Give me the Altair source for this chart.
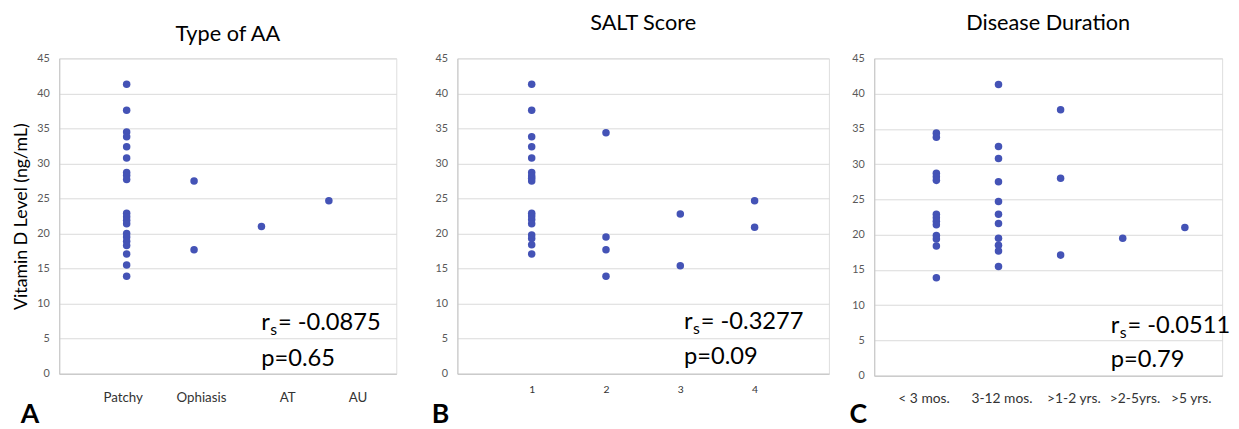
import altair as alt
import pandas as pd

FONT = "Lato"
POINT_COLOR = "#4453B6"
GRID = "#d9d9d9"
AXIS_LINE = "#c4c4c4"
TICK_LABEL = "#595959"

# ---------------- data ----------------
type_labels = ["Patchy", "Ophiasis", "AT", "AU"]
patchy_vals = [41.3, 37.6, 34.5, 33.8, 32.4, 30.8, 28.7, 28.3, 27.7, 22.9,
               22.4, 21.9, 21.4, 20.0, 19.5, 18.9, 18.3, 17.1, 15.5, 13.9]
ophiasis_vals = [27.5, 17.7]
at_vals = [21.0]
au_vals = [24.7]

salt_labels = ["1", "2", "3", "4"]
salt1_vals = [41.3, 37.6, 33.8, 32.4, 30.8, 28.7, 28.2, 27.9, 27.5, 22.9,
              22.5, 22.0, 21.4, 19.8, 19.3, 18.4, 17.1]
salt2_vals = [34.4, 19.5, 17.7, 13.9]
salt3_vals = [22.8, 15.4]
salt4_vals = [24.7, 20.9]

dur_labels = ["< 3 mos.", "3-12 mos.", ">1-2 yrs.", ">2-5yrs.", ">5 yrs."]
dur_lt3_vals = [34.4, 33.8, 28.7, 28.2, 27.7, 22.9, 22.4, 21.9, 21.4, 19.9,
                19.4, 18.4, 13.9]
dur_3_12_vals = [41.3, 32.5, 30.8, 27.5, 24.7, 22.9, 21.6, 19.5, 18.5, 17.7, 15.5]
dur_1_2_vals = [37.7, 28.0, 17.1]
dur_2_5_vals = [19.5]
dur_gt5_vals = [21.0]

titles = ["Type of AA", "SALT Score", "Disease Duration"]
rs_texts = ["= -0.0875", "= -0.3277", "= -0.0511"]
p_texts = ["p=0.65", "p=0.09", "p=0.79"]
letters = ["A", "B", "C"]
y_ticks = [0, 5, 10, 15, 20, 25, 30, 35, 40, 45]


def make_df(groups):
    rows = []
    for i, vals in enumerate(groups, start=1):
        for v in vals:
            rows.append({"pos": i, "vit": v})
    return pd.DataFrame(rows)


def one_text(txt, x, y, size, weight="normal", color="black"):
    return alt.Chart(pd.DataFrame({"t": [txt]})).mark_text(
        font=FONT, fontSize=size, fontWeight=weight, color=color,
        align="left", baseline="alphabetic"
    ).encode(x=alt.value(x), y=alt.value(y), text="t:N")


def panel(groups, labels, width, height, xmax, title, title_offset,
          label_offsets, label_size, label_pad, y_title, y_extent,
          rs, p, ann_x, ann_y, letter, letter_xy):
    df = make_df(groups)
    arr = "[''," + ",".join("'" + l + "'" for l in labels) + "]"
    off_cond = [{"test": f"datum.value == {i}", "value": o}
                for i, o in enumerate(label_offsets, start=1)]
    x_axis = alt.Axis(
        values=list(range(1, len(labels) + 1)),
        labelExpr=f"{arr}[datum.value]",
        title=None, grid=False, ticks=False, tickSize=0,
        domain=True, domainColor=AXIS_LINE,
        labelFont=FONT, labelFontSize=label_size, labelColor="#333333",
        labelPadding=label_pad,
        labelOffset={"condition": off_cond, "value": 0},
    )
    y_kwargs = dict(
        values=y_ticks, grid=True, gridColor=GRID, ticks=False, tickSize=0,
        domain=True, domainColor=AXIS_LINE, labelFont=FONT, labelFontSize=11,
        labelColor=TICK_LABEL, labelPadding=10,
        minExtent=y_extent, maxExtent=y_extent,
    )
    if y_title:
        y_axis = alt.Axis(title=y_title, titleFont=FONT, titleFontSize=18,
                          titleFontWeight="normal", titleColor="black",
                          titlePadding=5, **y_kwargs)
    else:
        y_axis = alt.Axis(title=None, **y_kwargs)

    pts = alt.Chart(df).mark_circle(size=58, color=POINT_COLOR, opacity=1).encode(
        x=alt.X("pos:Q", scale=alt.Scale(domain=[0, xmax], nice=False, zero=True),
                axis=x_axis),
        y=alt.Y("vit:Q", scale=alt.Scale(domain=[0, 45], nice=False), axis=y_axis),
    )
    layers = [
        pts,
        one_text("r", ann_x, ann_y[0], 24),
        one_text("s", ann_x + 9, ann_y[0] + 5, 16),
        one_text(rs, ann_x + 17, ann_y[0], 24),
        one_text(p, ann_x, ann_y[1], 24),
        one_text(letter, letter_xy[0], letter_xy[1], 27, weight="bold"),
    ]
    return alt.layer(*layers).properties(
        width=width, height=height,
        title=alt.TitleParams(title, font=FONT, fontSize=22, fontWeight="normal",
                              color="black", offset=title_offset, anchor="middle"),
    )


chart_a = panel([patchy_vals, ophiasis_vals, at_vals, au_vals], type_labels,
                342, 320, 5, titles[0], 7, [-4, 7, 26, 29], 13.5, 17,
                "Vitamin D Level (ng/mL)", 24, rs_texts[0], p_texts[0],
                205, [276, 312], letters[0], [-39, 370])
chart_b = panel([salt1_vals, salt2_vals, salt3_vals, salt4_vals], salt_labels,
                377, 320, 5, titles[1], 18, [0, 0, 0, 0], 10.5, 11,
                None, 25, rs_texts[1], p_texts[1],
                230, [275, 310], letters[1], [-26, 370])
chart_c = panel([dur_lt3_vals, dur_3_12_vals, dur_1_2_vals, dur_2_5_vals, dur_gt5_vals],
                dur_labels, 353, 322, 5.6, titles[2], 18, [-13, 3, 13, 12, 6], 14, 16,
                None, 25, rs_texts[2], p_texts[2],
                240, [279, 313], letters[2], [-25, 370])

chart = alt.hconcat(
    alt.hconcat(chart_a, chart_b, spacing=34),
    chart_c, spacing=19,
).properties(
    padding={"left": 4, "top": 0, "right": 0, "bottom": 0}
).configure_view(stroke=None).configure(background="white")

chart.save("out.html", embed_options={"renderer": "svg", "actions": False})
